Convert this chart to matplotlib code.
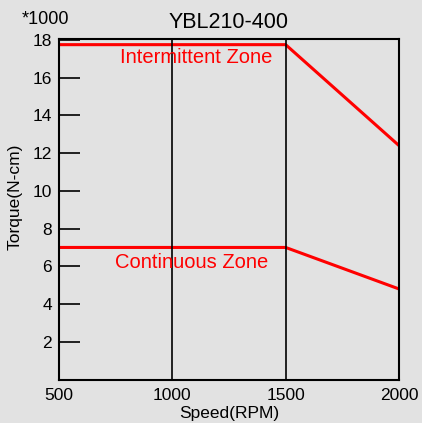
import matplotlib.pyplot as plt

plt.rcParams['font.family'] = ['Liberation Sans', 'DejaVu Sans']

speed = [500, 1500, 2000]
intermittent = [17.75, 17.75, 12.4]
continuous = [7.0, 7.0, 4.8]
yticks = [2, 4, 6, 8, 10, 12, 14, 16, 18]
xticks = [500, 1000, 1500, 2000]

bg = '#e2e2e2'
fig = plt.figure(figsize=(4.22, 4.23), dpi=100, facecolor=bg)
ax = fig.add_axes([59 / 422, 1 - 379.5 / 423, 340 / 422, 340.5 / 423])
ax.set_facecolor(bg)

ax.plot(speed, intermittent, color='#ff0000', lw=2.2)
ax.plot(speed, continuous, color='#ff0000', lw=2.2)
for x in [1000, 1500]:
    ax.axvline(x, color='black', lw=1.2)

ax.text(1105, 17.05, 'Intermittent Zone', color='#ff0000', fontsize=14.5,
        ha='center', va='center')
ax.text(1087, 6.2, 'Continuous Zone', color='#ff0000', fontsize=14.5,
        ha='center', va='center')

ax.set_xlim(500, 2000)
ax.set_ylim(0, 18.05)
ax.set_xticks(xticks)
ax.set_yticks(yticks)
ax.tick_params(axis='y', direction='in', length=15, width=1.2, labelsize=12.5, pad=5)
ax.tick_params(axis='x', length=0, labelsize=12.5, pad=6)
for s in ax.spines.values():
    s.set_linewidth(1.5)

ax.set_title('YBL210-400', fontsize=15.5, pad=8)
ax.set_xlabel('Speed(RPM)', fontsize=12.5, labelpad=2)
ax.set_ylabel('Torque(N-cm)', fontsize=12.5)
ax.yaxis.set_label_coords(-0.108, 0.536)
fig.text(22 / 422, 1 - 20 / 423, '*1000', fontsize=13, va='center', ha='left')

fig.savefig('out.png', dpi=100, facecolor=bg)
